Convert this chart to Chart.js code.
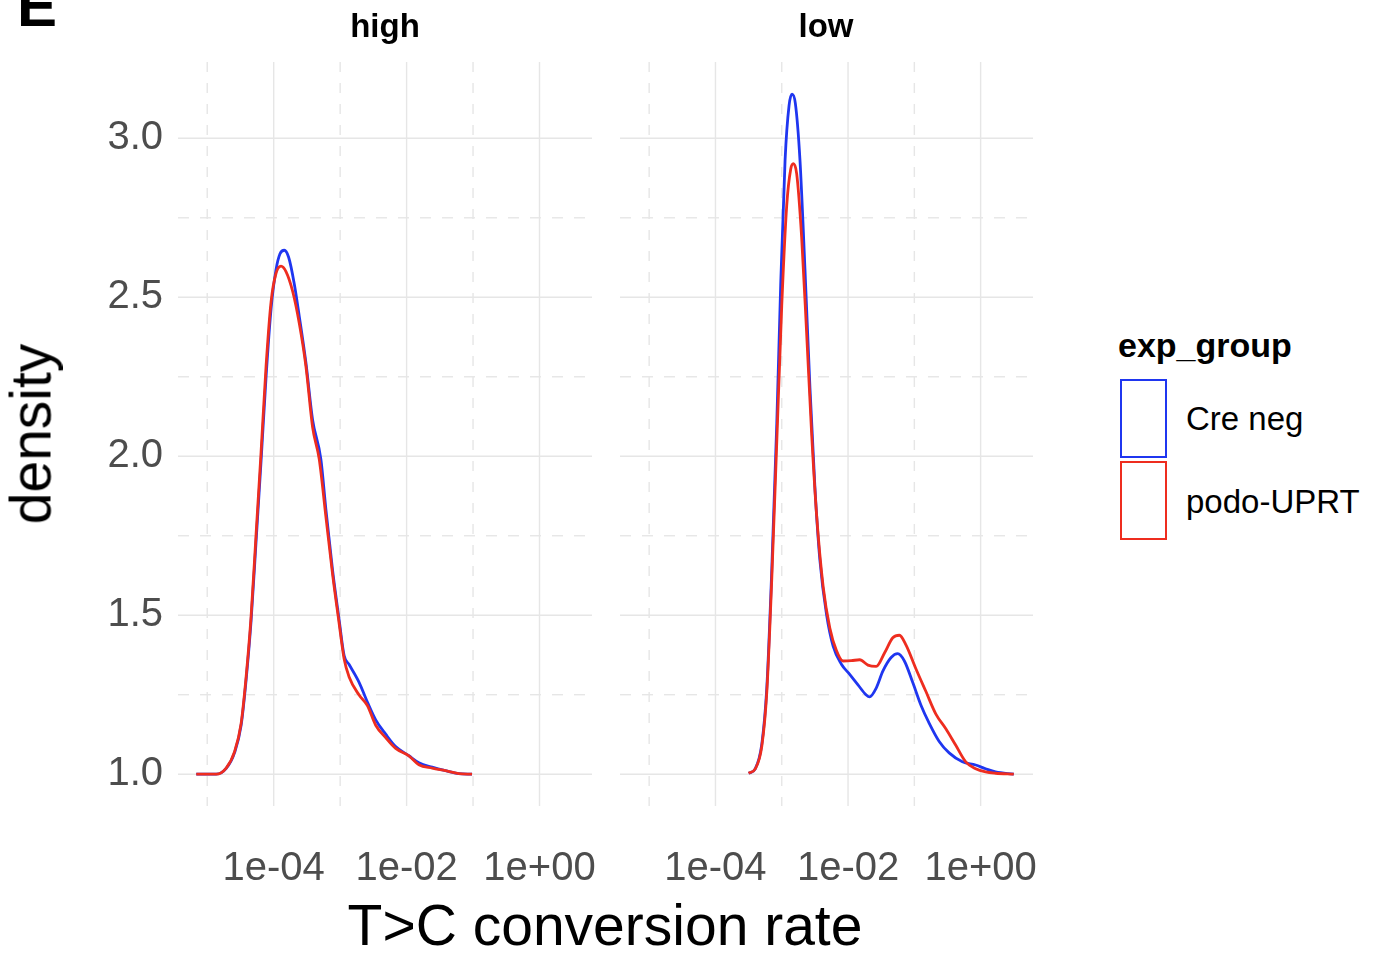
<!DOCTYPE html>
<html>
<head>
<meta charset="utf-8">
<script src="https://cdn.jsdelivr.net/npm/chart.js@4.4.0/dist/chart.umd.min.js"></script>
<style>
  body { margin: 0; background: #fff; font-family: "Liberation Sans", Arial, Helvetica, sans-serif; }
  #page { position: relative; width: 1383px; height: 956px; overflow: hidden; }
  canvas { position: absolute; top: 0; }
  #c-high { left: 0; }
  #c-low { left: 600px; }
  .txt { position: absolute; line-height: 1; white-space: nowrap; color: #000; }
  .panel-tag { left: 17px; top: -24px; font-size: 60px; font-weight: bold; }
  .strip { top: 9px; font-size: 33px; font-weight: bold; transform: translateX(-50%); }
  .xtitle { left: 605px; top: 897px; font-size: 57px; transform: translateX(-50%); }
  .ytitle { left: 31px; top: 434px; font-size: 57px; transform: translate(-50%, -50%) rotate(-90deg); }
  .leg-title { left: 1118px; top: 328px; font-size: 34px; font-weight: bold; }
  .leg-key { position: absolute; left: 1120px; box-sizing: border-box; border: 2.5px solid; }
  .leg-label { left: 1186px; font-size: 33px; }
</style>
</head>
<body>
<div id="page">
  <canvas id="c-high" width="600" height="956"></canvas>
  <canvas id="c-low" width="440" height="956"></canvas>
  <div class="txt panel-tag">E</div>
  <div class="txt strip" style="left:385px">high</div>
  <div class="txt strip" style="left:826px">low</div>
  <div class="txt xtitle">T&gt;C conversion rate</div>
  <div class="txt ytitle">density</div>
  <div class="txt leg-title">exp_group</div>
  <div id="legend"></div>
</div>
<script>
const groups = ['Cre neg', 'podo-UPRT'];
const groupColors = ['#1f36f0', '#ee2d1f'];

// x values are log10 of the T>C conversion rate
const highCreNegExp = [-5.165, -4.865, -4.715, -4.59, -4.49, -4.415, -4.34, -4.265, -4.19, -4.115, -4.04, -3.965, -3.905, -3.84, -3.775, -3.69, -3.615, -3.515, -3.415, -3.29, -3.215, -3.115, -3.015, -2.94, -2.865, -2.715, -2.59, -2.465, -2.315, -2.165, -1.965, -1.815, -1.615, -1.415, -1.215, -1.015];
const highCreNegDensity = [1.000, 1.000, 1.018, 1.067, 1.154, 1.297, 1.483, 1.733, 1.985, 2.249, 2.463, 2.587, 2.637, 2.648, 2.626, 2.542, 2.440, 2.294, 2.115, 1.991, 1.834, 1.643, 1.485, 1.373, 1.345, 1.289, 1.227, 1.171, 1.126, 1.087, 1.058, 1.036, 1.022, 1.011, 1.002, 1.000];

const highPodoExp = [-5.165, -4.865, -4.715, -4.59, -4.49, -4.415, -4.34, -4.265, -4.19, -4.115, -4.04, -3.965, -3.89, -3.815, -3.715, -3.615, -3.515, -3.415, -3.315, -3.215, -3.115, -3.015, -2.94, -2.865, -2.715, -2.59, -2.465, -2.315, -2.165, -1.965, -1.815, -1.615, -1.415, -1.215, -1.015];
const highPodoDensity = [1.000, 1.000, 1.019, 1.070, 1.160, 1.306, 1.497, 1.755, 2.013, 2.283, 2.485, 2.575, 2.598, 2.581, 2.519, 2.418, 2.283, 2.092, 1.991, 1.811, 1.631, 1.474, 1.362, 1.306, 1.249, 1.216, 1.154, 1.115, 1.081, 1.058, 1.030, 1.019, 1.011, 1.002, 1.000];

const lowCreNegExp = [-3.5, -3.4, -3.3, -3.225, -3.15, -3.075, -3.015, -2.95, -2.89, -2.845, -2.795, -2.725, -2.65, -2.575, -2.5, -2.425, -2.325, -2.225, -2.1, -1.975, -1.85, -1.725, -1.675, -1.575, -1.475, -1.35, -1.25, -1.15, -1.025, -0.9, -0.775, -0.625, -0.475, -0.275, -0.075, 0.075, 0.225, 0.5];
const lowCreNegDensity = [1.003, 1.017, 1.096, 1.274, 1.646, 2.103, 2.546, 2.931, 3.103, 3.139, 3.110, 2.931, 2.589, 2.217, 1.903, 1.674, 1.503, 1.403, 1.346, 1.314, 1.281, 1.249, 1.243, 1.271, 1.324, 1.367, 1.379, 1.356, 1.289, 1.217, 1.160, 1.103, 1.067, 1.039, 1.029, 1.017, 1.007, 1.000];

const lowPodoExp = [-3.5, -3.4, -3.3, -3.225, -3.15, -3.075, -3.0, -2.925, -2.865, -2.825, -2.775, -2.7, -2.625, -2.55, -2.475, -2.375, -2.275, -2.175, -2.075, -1.95, -1.825, -1.7, -1.575, -1.45, -1.325, -1.225, -1.125, -0.975, -0.825, -0.675, -0.525, -0.375, -0.225, -0.075, 0.075, 0.225, 0.5];
const lowPodoDensity = [1.003, 1.017, 1.089, 1.260, 1.617, 2.046, 2.474, 2.789, 2.903, 2.920, 2.889, 2.689, 2.389, 2.074, 1.817, 1.589, 1.460, 1.389, 1.356, 1.357, 1.360, 1.343, 1.339, 1.381, 1.429, 1.437, 1.406, 1.331, 1.260, 1.189, 1.143, 1.091, 1.039, 1.017, 1.007, 1.003, 1.000];

// axes
const xTicks = [1e-4, 1e-2, 1];
const xTickLabels = ['1e-04', '1e-02', '1e+00'];
const xMinorGrid = [1e-5, 1e-3, 1e-1];
const yTicks = [1.0, 1.5, 2.0, 2.5, 3.0];
const yMinorGrid = [1.25, 1.75, 2.25, 2.75];
const xRange = [Math.pow(10, -5.44), Math.pow(10, 0.79)];
const yRange = [0.9, 3.24];

const gridColor = '#e6e6e6';
const tickColor = '#4d4d4d';
const fontFamily = '"Liberation Sans", Arial, Helvetica, sans-serif';

function toPoints(exps, dens) {
  return exps.map((e, i) => ({ x: Math.pow(10, e), y: dens[i] }));
}

// theme_minimal style grid: solid major lines, dashed minor lines
const facetGrid = {
  id: 'facetGrid',
  beforeDatasetsDraw(chart) {
    const { ctx, chartArea: a, scales: { x, y } } = chart;
    ctx.save();
    ctx.strokeStyle = gridColor;
    ctx.lineWidth = 1.4;
    const seg = (x1, y1, x2, y2, dash) => {
      ctx.setLineDash(dash);
      ctx.beginPath();
      ctx.moveTo(x1, y1);
      ctx.lineTo(x2, y2);
      ctx.stroke();
    };
    yMinorGrid.forEach(v => { const p = y.getPixelForValue(v); seg(a.left, p, a.right, p, [11, 11]); });
    xMinorGrid.forEach(v => { const p = x.getPixelForValue(v); seg(p, a.top, p, a.bottom, [10, 11]); });
    yTicks.forEach(v => { const p = y.getPixelForValue(v); seg(a.left, p, a.right, p, []); });
    xTicks.forEach(v => { const p = x.getPixelForValue(v); seg(p, a.top, p, a.bottom, []); });
    ctx.restore();
  }
};

function makeFacet(canvasId, series, showY, pad) {
  return new Chart(document.getElementById(canvasId), {
    type: 'line',
    data: {
      datasets: series.map((s, i) => ({
        label: groups[i],
        data: s,
        borderColor: groupColors[i],
        borderWidth: 2.8,
        pointRadius: 0,
        fill: false,
        cubicInterpolationMode: 'monotone',
        // later groups sit on top, as in ggplot
        order: series.length - i
      }))
    },
    options: {
      responsive: false,
      animation: false,
      events: [],
      layout: { padding: pad },
      plugins: { legend: { display: false }, tooltip: { enabled: false } },
      scales: {
        x: {
          type: 'logarithmic',
          bounds: 'data',
          min: xRange[0],
          max: xRange[1],
          border: { display: false },
          // tickLength only pushes the labels down; the grid itself is drawn by facetGrid
          grid: { display: false, drawTicks: true, tickLength: 39 },
          afterBuildTicks: axis => { axis.ticks = xTicks.map(v => ({ value: v })); },
          afterFit: axis => { axis.height = 150; },
          ticks: {
            autoSkip: false,
            maxRotation: 0,
            padding: 0,
            color: tickColor,
            font: { family: fontFamily, size: 40 },
            callback: value => xTickLabels[xTicks.indexOf(value)]
          }
        },
        y: {
          type: 'linear',
          display: showY,
          bounds: 'data',
          min: yRange[0],
          max: yRange[1],
          border: { display: false },
          grid: { display: false, drawTicks: true, tickLength: 15 },
          afterBuildTicks: axis => { axis.ticks = yTicks.map(v => ({ value: v })); },
          afterFit: axis => { axis.width = showY ? 178 : 0; },
          ticks: {
            padding: 0,
            color: tickColor,
            font: { family: fontFamily, size: 40 },
            callback: value => value.toFixed(1)
          }
        }
      }
    },
    plugins: [facetGrid]
  });
}

makeFacet('c-high', [toPoints(highCreNegExp, highCreNegDensity), toPoints(highPodoExp, highPodoDensity)],
  true, { top: 62, right: 8, bottom: 0, left: 0 });
makeFacet('c-low', [toPoints(lowCreNegExp, lowCreNegDensity), toPoints(lowPodoExp, lowPodoDensity)],
  false, { top: 62, right: 7, bottom: 0, left: 20 });

// legend keys: outlined boxes, one per group
const legend = document.getElementById('legend');
const keyTops = [379, 461];
const labelTops = [402, 485];
groups.forEach((g, i) => {
  const key = document.createElement('div');
  key.className = 'leg-key';
  key.style.top = keyTops[i] + 'px';
  key.style.height = '79px';
  key.style.width = '47px';
  key.style.borderColor = groupColors[i];
  legend.appendChild(key);
  const lab = document.createElement('div');
  lab.className = 'txt leg-label';
  lab.style.top = labelTops[i] + 'px';
  lab.textContent = g;
  legend.appendChild(lab);
});
</script>
</body>
</html>
